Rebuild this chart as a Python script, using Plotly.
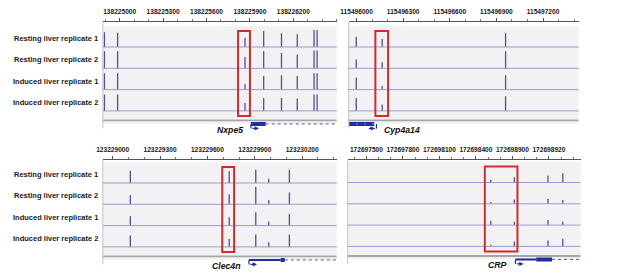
import plotly.graph_objects as go

W, H = 617, 279
# the page body adds a margin around the plot; layout pixel positions below
# are given in window coordinates and converted with this offset
OFF_X, OFF_Y = 12, 8

# ---------------- data ----------------
row_labels = ["Resting liver replicate 1", "Resting liver replicate 2",
              "Induced liver replicate 1", "Induced liver replicate 2"]

# Nxpe5 locus
nxpe5_range = [138224884, 138226500]
nxpe5_ticks = [138225000, 138225300, 138225600, 138225900, 138226200]
nxpe5_ticktext = ["138225000", "138225300", "138225600", "138225900", "138226200"]
nxpe5_peaks = [138224895, 138224986, 138225866, 138225995, 138226118, 138226227, 138226343, 138226364]
nxpe5_rest1 = [14.7, 14.3, 9.3, 16.0, 13.7, 12.7, 17.0, 17.0]
nxpe5_rest2 = [17.0, 17.0, 11.3, 17.0, 15.3, 13.7, 17.7, 17.7]
nxpe5_ind1 = [16.3, 16.3, 5.3, 13.7, 14.3, 13.7, 16.3, 16.3]
nxpe5_ind2 = [16.3, 16.3, 8.0, 13.0, 13.0, 12.3, 16.3, 16.3]
nxpe5_box = [138225818, 138225900]

# Cyp4a14 locus
cyp_range = [115495949, 115497429]
cyp_ticks = [115496000, 115496300, 115496600, 115496900, 115497200]
cyp_ticktext = ["115496000", "115496300", "115496600", "115496900", "115497200"]
cyp_peaks = [115495998, 115496165, 115496959]
cyp_rest1 = [10.3, 8.0, 13.7]
cyp_rest2 = [8.7, 6.0, 17.0]
cyp_ind1 = [12.0, 3.7, 14.3]
cyp_ind2 = [13.0, 6.3, 14.7]
cyp_box = [115496121, 115496203]

# Clec4n locus
clec_range = [123228938, 123230419]
clec_ticks = [123229000, 123229300, 123229600, 123229900, 123230200]
clec_ticktext = ["123229000", "123229300", "123229600", "123229900", "123230200"]
clec_peaks = [123229112, 123229738, 123229906, 123229988, 123230119]
clec_rest1 = [12.3, 11.7, 13.3, 4.3, 13.3]
clec_rest2 = [9.0, 10.0, 17.3, 4.0, 11.7]
clec_ind1 = [9.3, 8.3, 13.3, 4.0, 11.7]
clec_ind2 = [11.3, 8.0, 12.3, 4.7, 12.3]
clec_box = [123229694, 123229769]

# CRP locus
crp_range = [172697346, 172699260]
crp_ticks = [172697500, 172697800, 172698100, 172698400, 172698700, 172699000]
crp_ticktext = ["172697500", "172697800", "172698100", "172698400", "172698900", "172698920"]
crp_peaks = [172698522, 172698716, 172698992, 172699114]
crp_rest1 = [2.7, 5.3, 7.0, 9.3]
crp_rest2 = [1.7, 4.3, 5.0, 3.7]
crp_ind1 = [4.3, 3.3, 5.0, 3.3]
crp_ind2 = [1.7, 5.0, 6.0, 7.7]
crp_box = [172698473, 172698741]

# gene models
gene_names = ["Nxpe5", "Cyp4a14", "Clec4n", "CRP"]
gene_strand = ["+", "-", "+", "+"]
gene_tss = [138225907, 115496128, 123229863, 172698725]
gene_utr = [None, None, (123229863, 123230063), (172698725, 172698895)]
gene_cds = [(138225907, 138226009), (115495949, 115496114), (123230063, 123230090), (172698895, 172699025)]
gene_intron = [(138226009, 138226500), None, (123230090, 123230419), (172699025, 172699260)]

# ---------------- layout of panels ----------------
panels = [
    dict(x0=100, x1=337, ruler=22, bottom=134, base0=25.0, labels=True,
         rng=nxpe5_range, ticks=nxpe5_ticks, tt=nxpe5_ticktext, peaks=nxpe5_peaks,
         reps=[nxpe5_rest1, nxpe5_rest2, nxpe5_ind1, nxpe5_ind2], box=nxpe5_box, gene=0),
    dict(x0=349, x1=582, ruler=22, bottom=134, base0=25.0, labels=False,
         rng=cyp_range, ticks=cyp_ticks, tt=cyp_ticktext, peaks=cyp_peaks,
         reps=[cyp_rest1, cyp_rest2, cyp_ind1, cyp_ind2], box=cyp_box, gene=1),
    dict(x0=100, x1=337, ruler=160, bottom=272, base0=23.0, labels=True,
         rng=clec_range, ticks=clec_ticks, tt=clec_ticktext, peaks=clec_peaks,
         reps=[clec_rest1, clec_rest2, clec_ind1, clec_ind2], box=clec_box, gene=2),
    dict(x0=348, x1=584, ruler=160, bottom=272, base0=22.5, labels=False,
         rng=crp_range, ticks=crp_ticks, tt=crp_ticktext, peaks=crp_peaks,
         reps=[crp_rest1, crp_rest2, crp_ind1, crp_ind2], box=crp_box, gene=3),
]


def fx(px):
    return (px - OFF_X) / W


def fy(py):
    return 1 - (py - OFF_Y) / H


ROW_H = 21.3
BAR_COLOR = "#505090"
BASE_COLOR = "#9a9acc"
GENE_COLOR = "#1f2f9c"
FONT = "Liberation Sans, Arial, sans-serif"

fig = go.Figure()
layout = dict(width=W, height=H, margin=dict(l=0, r=0, t=0, b=0), autosize=False,
              paper_bgcolor="white", plot_bgcolor="rgba(0,0,0,0)", showlegend=False)
shapes = []
annotations = []

for k, p in enumerate(panels, start=1):
    xa = "x" if k == 1 else f"x{k}"
    ya = "y" if k == 1 else f"y{k}"
    xkey = "xaxis" if k == 1 else f"xaxis{k}"
    ykey = "yaxis" if k == 1 else f"yaxis{k}"
    span = p["bottom"] - p["ruler"]
    layout[xkey] = dict(
        domain=[fx(p["x0"]), fx(p["x1"])], range=p["rng"], anchor=ya, side="top",
        showline=True, linecolor="#555", linewidth=1, mirror=False,
        ticks="outside", ticklen=3, tickcolor="#555", tickwidth=1,
        tickmode="array", tickvals=p["ticks"], ticktext=p["tt"],
        tickfont=dict(size=6.6, color="#1a1a1a", family=FONT, weight="bold"),
        ticklabelstandoff=1,
        showgrid=False, zeroline=False, fixedrange=True,
        minor=dict(ticks="outside", ticklen=2, tickcolor="#777", tick0=0, dtick=100, showgrid=False),
    )
    layout[ykey] = dict(domain=[fy(p["bottom"]), fy(p["ruler"])], range=[span, 0],
                        anchor=xa, visible=False, fixedrange=True)

    base0 = p["base0"]
    track_top = base0 - 21
    gray = base0 + 3 * ROW_H + 8.5
    shapes.append(dict(type="rect", xref=f"{xa} domain", yref=ya, x0=0, x1=1,
                       y0=track_top, y1=gray, fillcolor="#f2f2f5", line=dict(width=0), layer="below"))
    shapes.append(dict(type="rect", xref=f"{xa} domain", yref=ya, x0=0, x1=1,
                       y0=gray, y1=gray + 2.2, fillcolor="#a6a6a6", line=dict(width=0), layer="below"))
    shapes.append(dict(type="rect", xref=f"{xa} domain", yref=ya, x0=0, x1=1,
                       y0=gray + 2.2, y1=gray + 4, fillcolor="#f0f0f0", line=dict(width=0), layer="below"))
    shapes.append(dict(type="line", xref=f"{xa} domain", yref=ya, x0=0, x1=0,
                       y0=track_top - 4, y1=gray + 9, line=dict(color="#c4c4c4", width=1)))

    for r, heights in enumerate(p["reps"]):
        base = base0 + r * ROW_H
        shapes.append(dict(type="line", xref=f"{xa} domain", yref=ya, x0=0, x1=1,
                           y0=base, y1=base, line=dict(color=BASE_COLOR, width=1)))
        xs, ys = [], []
        for pos, h in zip(p["peaks"], heights):
            xs += [pos, pos, None]
            ys += [base, base - h, None]
        fig.add_trace(go.Scatter(x=xs, y=ys, mode="lines", xaxis=xa, yaxis=ya,
                                 line=dict(color=BAR_COLOR, width=1.3), hoverinfo="skip"))
        if p["labels"]:
            annotations.append(dict(text=f"<b>{row_labels[r]}</b>", xref="paper", x=fx(97),
                                    xanchor="right", yref=ya, y=base - 8.5, yanchor="middle",
                                    showarrow=False, font=dict(size=7.5, color="#1a1a1a", family=FONT)))

    shapes.append(dict(type="rect", xref=xa, yref=ya, x0=p["box"][0], x1=p["box"][1],
                       y0=base0 - 16, y1=base0 + 3 * ROW_H + 5,
                       line=dict(color="#d42a2a", width=2), fillcolor="rgba(0,0,0,0)"))

    g = p["gene"]
    gy = gray + 4.5
    if gene_intron[g]:
        a, b = gene_intron[g]
        fig.add_trace(go.Scatter(x=[a, b], y=[gy, gy], mode="lines", xaxis=xa, yaxis=ya,
                                 line=dict(color="#4a5ab0", width=1, dash="dot"), hoverinfo="skip"))
    if gene_utr[g]:
        a, b = gene_utr[g]
        fig.add_trace(go.Scatter(x=[a, b], y=[gy, gy], mode="lines", xaxis=xa, yaxis=ya,
                                 line=dict(color=GENE_COLOR, width=2), hoverinfo="skip"))
    a, b = gene_cds[g]
    fig.add_trace(go.Scatter(x=[a, b], y=[gy, gy], mode="lines", xaxis=xa, yaxis=ya,
                             line=dict(color=GENE_COLOR, width=4), hoverinfo="skip"))
    if b - a > 150:
        fig.add_trace(go.Scatter(x=[a, b], y=[gy, gy], mode="lines", xaxis=xa, yaxis=ya,
                                 line=dict(color="white", width=1, dash="1px,7px"), hoverinfo="skip"))
    tss = gene_tss[g]
    ay_ = gy + 4.5
    fig.add_trace(go.Scatter(x=[tss, tss], y=[gy, ay_], mode="lines", xaxis=xa, yaxis=ya,
                             line=dict(color=GENE_COLOR, width=1.2), hoverinfo="skip"))
    sgn = 1 if gene_strand[g] == "+" else -1
    annotations.append(dict(x=tss, y=ay_, xref=xa, yref=ya, text="", showarrow=True,
                            ax=-8 * sgn, ay=0, xshift=8 * sgn, arrowhead=2, arrowsize=0.7,
                            arrowwidth=1.2, arrowcolor=GENE_COLOR))
    annotations.append(dict(x=tss, y=gy + 6, xref=xa, yref=ya,
                            text=f"<b><i>{gene_names[g]}</i></b>", showarrow=False,
                            xanchor="right" if sgn == 1 else "left", yanchor="middle",
                            xshift=-6 if sgn == 1 else 6,
                            font=dict(size=8.7, color="#111", family=FONT)))

layout["shapes"] = shapes
layout["annotations"] = annotations
fig.update_layout(**layout)
fig.write_html("out.html")
